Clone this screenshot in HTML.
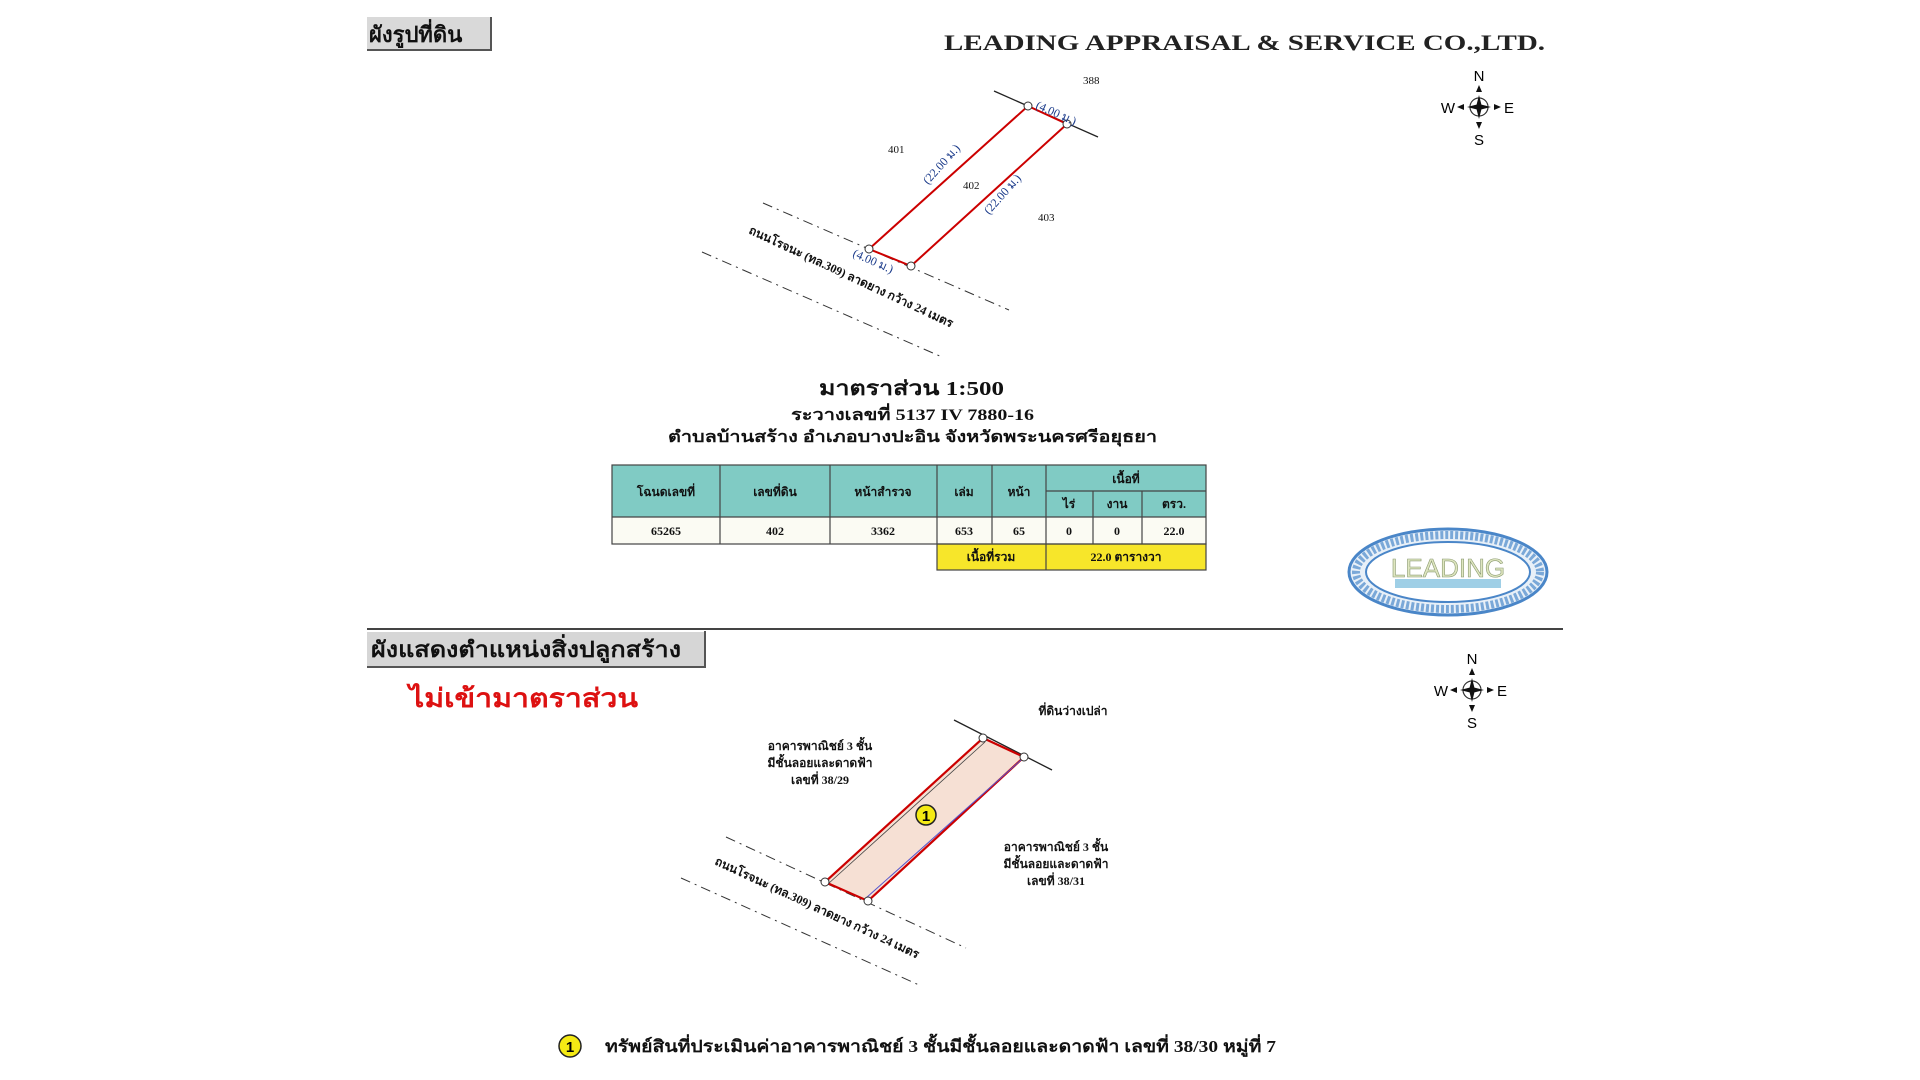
<!DOCTYPE html>
<html><head><meta charset="utf-8"><style>
html,body{margin:0;padding:0;background:#fff;width:1920px;height:1080px;overflow:hidden}
svg text{font-family:"Liberation Serif","Noto Serif CJK SC",serif}
</style></head><body>
<svg width="1920" height="1080" viewBox="0 0 1920 1080" xmlns="http://www.w3.org/2000/svg">
<!-- Title box 1 -->
<rect x="367" y="17" width="124" height="33" fill="#d9d9d9"/>
<line x1="491" y1="17" x2="491" y2="51" stroke="#555" stroke-width="2"/>
<line x1="367" y1="50" x2="491" y2="50" stroke="#555" stroke-width="2"/>
<text x="369" y="42" font-size="22" font-weight="bold" fill="#111">ผังรูปที่ดิน</text>
<text x="944" y="50" font-size="22" font-weight="bold" fill="#222" textLength="601" lengthAdjust="spacingAndGlyphs">LEADING APPRAISAL &amp; SERVICE CO.,LTD.</text>

<!-- compass 1 -->
<g transform="translate(1479,107)">
<circle r="9" fill="none" stroke="#333" stroke-width="1.2"/>
<path d="M0,-12L3,0L0,12L-3,0z M-12,0L0,-3L12,0L0,3z" fill="#111"/>
<path d="M0,-22L-3,-15L3,-15z M0,22L-3,15L3,15z M-22,0L-15,-3L-15,3z M22,0L15,-3L15,3z" fill="#111"/>
<text x="0" y="-26" text-anchor="middle" font-size="15" style="font-family:Liberation Sans">N</text>
<text x="0" y="38" text-anchor="middle" font-size="15" style="font-family:Liberation Sans">S</text>
<text x="-24" y="6" text-anchor="end" font-size="15" style="font-family:Liberation Sans">W</text>
<text x="25" y="6" font-size="15" style="font-family:Liberation Sans">E</text>
</g>

<!-- parcel 1 -->
<line x1="994" y1="91" x2="1098" y2="137" stroke="#222" stroke-width="1.3"/>
<line x1="763" y1="203" x2="1009" y2="310" stroke="#333" stroke-width="1" stroke-dasharray="10,5,2,5"/>
<line x1="702" y1="252" x2="942" y2="357" stroke="#333" stroke-width="1" stroke-dasharray="10,5,2,5"/>
<polygon points="1028,106 1067,124 911,266 869,249" fill="none" stroke="#c00" stroke-width="2"/>
<g fill="#fff" stroke="#333" stroke-width="1"><circle cx="1028" cy="106" r="4"/><circle cx="1067" cy="124" r="4"/><circle cx="911" cy="266" r="4"/><circle cx="869" cy="249" r="4"/></g>
<g font-size="12" fill="#1a3a8a">
<text transform="translate(1035,108) rotate(24)">(4.00 ม.)</text>
<text transform="translate(852,256) rotate(24)">(4.00 ม.)</text>
<text transform="translate(928,185) rotate(-48)">(22.00 ม.)</text>
<text transform="translate(989,215) rotate(-48)">(22.00 ม.)</text>
</g>
<g font-size="11" fill="#111">
<text x="1083" y="84">388</text><text x="888" y="153">401</text><text x="963" y="189">402</text><text x="1038" y="221">403</text>
</g>
<text transform="translate(748,233) rotate(25)" font-size="12" font-weight="bold" fill="#111">ถนนโรจนะ (ทล.309) ลาดยาง กว้าง 24 เมตร</text>

<g font-weight="bold" fill="#111">
<text x="819" y="395" font-size="20" textLength="185" lengthAdjust="spacingAndGlyphs">มาตราส่วน 1:500</text>
<text x="791" y="420" font-size="16" textLength="243" lengthAdjust="spacingAndGlyphs">ระวางเลขที่ 5137 IV 7880-16</text>
<text x="668" y="442" font-size="16" textLength="489" lengthAdjust="spacingAndGlyphs">ตำบลบ้านสร้าง  อำเภอบางปะอิน  จังหวัดพระนครศรีอยุธยา</text>
</g>

<!-- table -->
<rect x="612" y="465" width="594" height="52" fill="#80cbc4"/>
<rect x="612" y="517" width="594" height="27" fill="#fbfbf3"/>
<rect x="937" y="544" width="269" height="26" fill="#f7e62a"/>
<g stroke="#444" stroke-width="1.2" fill="none">
<rect x="612" y="465" width="594" height="79"/>
<rect x="937" y="544" width="269" height="26"/>
<line x1="720" y1="465" x2="720" y2="544"/><line x1="830" y1="465" x2="830" y2="544"/>
<line x1="937" y1="465" x2="937" y2="544"/><line x1="992" y1="465" x2="992" y2="544"/>
<line x1="1046" y1="465" x2="1046" y2="570"/>
<line x1="1093" y1="491" x2="1093" y2="544"/><line x1="1142" y1="491" x2="1142" y2="544"/>
<line x1="1046" y1="491" x2="1206" y2="491"/><line x1="612" y1="517" x2="1206" y2="517"/>
</g>
<g font-size="12" font-weight="bold" fill="#111" text-anchor="middle">
<text x="666" y="496">โฉนดเลขที่</text><text x="775" y="496">เลขที่ดิน</text><text x="883" y="496">หน้าสำรวจ</text>
<text x="964" y="496">เล่ม</text><text x="1019" y="496">หน้า</text><text x="1126" y="483">เนื้อที่</text>
<text x="1069" y="508">ไร่</text><text x="1117" y="508">งาน</text><text x="1174" y="508">ตรว.</text>
<text x="666" y="535">65265</text><text x="775" y="535">402</text><text x="883" y="535">3362</text>
<text x="964" y="535">653</text><text x="1019" y="535">65</text><text x="1069" y="535">0</text><text x="1117" y="535">0</text><text x="1174" y="535">22.0</text>
<text x="991" y="561">เนื้อที่รวม</text><text x="1126" y="561">22.0 ตารางวา</text>
</g>

<!-- stamp -->
<g>
<ellipse cx="1448" cy="572" rx="99" ry="43" fill="#e8f0f8" stroke="#4a86c8" stroke-width="3"/>
<ellipse cx="1448" cy="572" rx="82" ry="30" fill="#fff" stroke="#4a86c8" stroke-width="2"/>
<ellipse cx="1448" cy="572" rx="92" ry="37" fill="none" stroke="#7aa8d8" stroke-width="8" stroke-dasharray="3,2"/>
<rect x="1395" y="579" width="106" height="9" fill="#9fcfe6"/>
<text x="1448" y="577" text-anchor="middle" font-size="26" fill="#dfe6c0" stroke="#8a9a70" stroke-width="0.6" style="font-family:Liberation Sans">LEADING</text>
</g>

<!-- divider -->
<line x1="367" y1="629" x2="1563" y2="629" stroke="#444" stroke-width="2"/>

<!-- title box 2 -->
<rect x="367" y="632" width="338" height="35" fill="#d6d6d6"/>
<line x1="705" y1="631" x2="705" y2="668" stroke="#555" stroke-width="2"/>
<line x1="367" y1="667" x2="705" y2="667" stroke="#555" stroke-width="2"/>
<text x="371" y="657" font-size="22" font-weight="bold" fill="#111" textLength="310" lengthAdjust="spacingAndGlyphs">ผังแสดงตำแหน่งสิ่งปลูกสร้าง</text>
<text x="409" y="707" font-size="26" font-weight="bold" fill="#d11" textLength="229" lengthAdjust="spacingAndGlyphs">ไม่เข้ามาตราส่วน</text>

<!-- compass 2 -->
<g transform="translate(1472,690)">
<circle r="9" fill="none" stroke="#333" stroke-width="1.2"/>
<path d="M0,-12L3,0L0,12L-3,0z M-12,0L0,-3L12,0L0,3z" fill="#111"/>
<path d="M0,-22L-3,-15L3,-15z M0,22L-3,15L3,15z M-22,0L-15,-3L-15,3z M22,0L15,-3L15,3z" fill="#111"/>
<text x="0" y="-26" text-anchor="middle" font-size="15" style="font-family:Liberation Sans">N</text>
<text x="0" y="38" text-anchor="middle" font-size="15" style="font-family:Liberation Sans">S</text>
<text x="-24" y="6" text-anchor="end" font-size="15" style="font-family:Liberation Sans">W</text>
<text x="25" y="6" font-size="15" style="font-family:Liberation Sans">E</text>
</g>

<text x="1073" y="715" text-anchor="middle" font-size="12" font-weight="bold" fill="#111">ที่ดินว่างเปล่า</text>

<!-- parcel 2 -->
<line x1="954" y1="720" x2="1052" y2="770" stroke="#222" stroke-width="1.3"/>
<line x1="726" y1="837" x2="966" y2="948" stroke="#333" stroke-width="1" stroke-dasharray="10,5,2,5"/>
<line x1="681" y1="878" x2="919" y2="985" stroke="#333" stroke-width="1" stroke-dasharray="10,5,2,5"/>
<polygon points="983,738 1024,757 868,901 825,882" fill="#f6e0d4" stroke="#c00" stroke-width="2.2"/>
<line x1="1021" y1="760" x2="866" y2="898" stroke="#55c" stroke-width="1"/>
<line x1="985" y1="742" x2="828" y2="884" stroke="#444" stroke-width="0.8"/>
<g fill="#fff" stroke="#333" stroke-width="1"><circle cx="983" cy="738" r="4"/><circle cx="1024" cy="757" r="4"/><circle cx="868" cy="901" r="4"/><circle cx="825" cy="882" r="4"/></g>
<circle cx="926" cy="815" r="10" fill="#f5ea14" stroke="#222" stroke-width="1.5"/>
<text x="926" y="821" text-anchor="middle" font-size="15" font-weight="bold" style="font-family:Liberation Sans">1</text>
<g font-size="12" font-weight="bold" fill="#111" text-anchor="middle">
<text x="820" y="750">อาคารพาณิชย์ 3 ชั้น</text><text x="820" y="767">มีชั้นลอยและดาดฟ้า</text><text x="820" y="784">เลขที่ 38/29</text>
<text x="1056" y="851">อาคารพาณิชย์ 3 ชั้น</text><text x="1056" y="868">มีชั้นลอยและดาดฟ้า</text><text x="1056" y="885">เลขที่ 38/31</text>
</g>
<text transform="translate(714,864) rotate(25)" font-size="12" font-weight="bold" fill="#111">ถนนโรจนะ (ทล.309) ลาดยาง กว้าง 24 เมตร</text>

<!-- legend -->
<circle cx="570" cy="1046" r="11" fill="#f5ea14" stroke="#222" stroke-width="1.5"/>
<text x="570" y="1052" text-anchor="middle" font-size="15" font-weight="bold" style="font-family:Liberation Sans">1</text>
<text x="605" y="1052" font-size="17" font-weight="bold" fill="#111" textLength="671" lengthAdjust="spacingAndGlyphs">ทรัพย์สินที่ประเมินค่าอาคารพาณิชย์ 3 ชั้นมีชั้นลอยและดาดฟ้า เลขที่ 38/30 หมู่ที่ 7</text>
</svg>
</body></html>
